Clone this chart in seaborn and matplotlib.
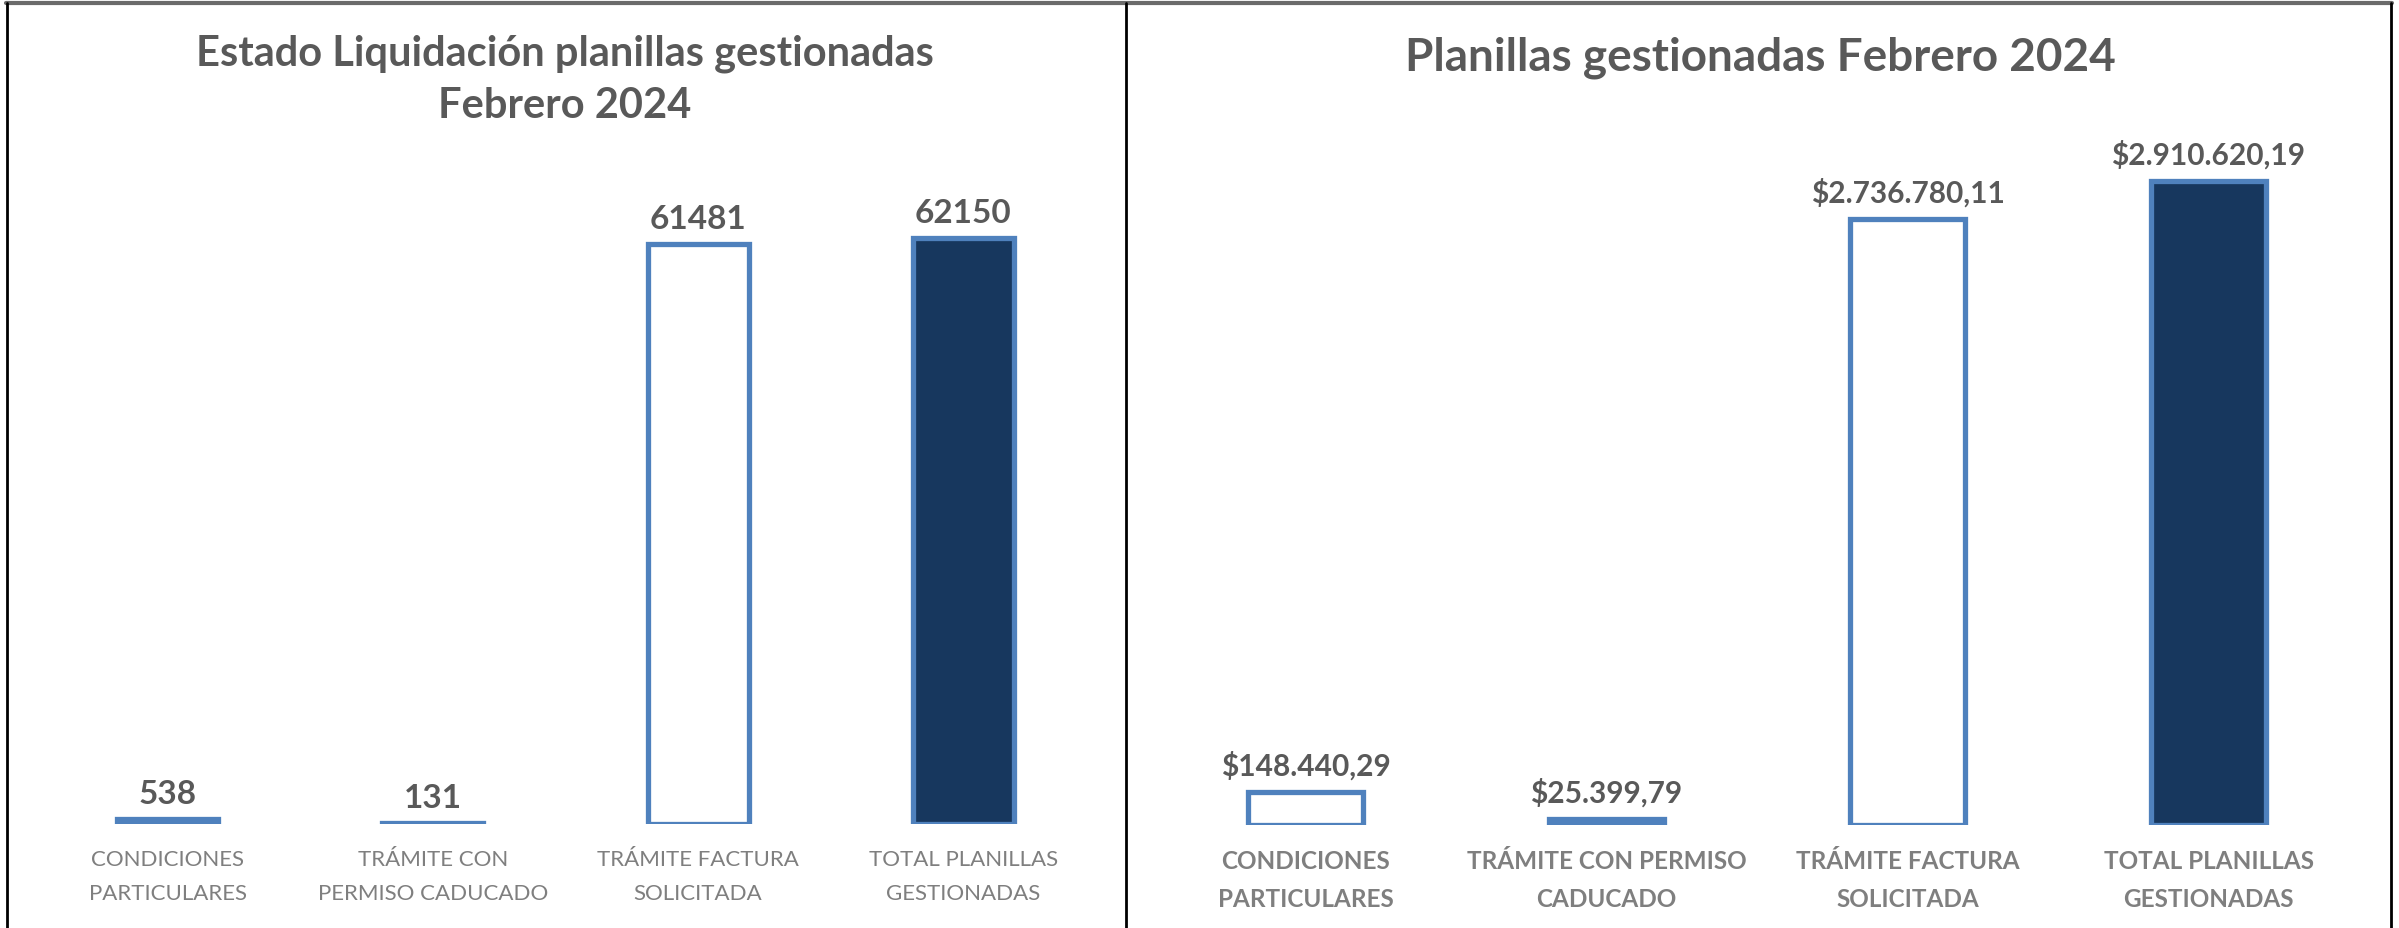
import matplotlib
matplotlib.use("Agg")
import matplotlib.pyplot as plt
import seaborn as sns
from matplotlib.lines import Line2D

# =====================================================
# DATA
# =====================================================
left_title = "Estado Liquidación planillas gestionadas\nFebrero 2024"
left_categories = [
    "CONDICIONES\nPARTICULARES",
    "TRÁMITE CON\nPERMISO CADUCADO",
    "TRÁMITE FACTURA\nSOLICITADA",
    "TOTAL PLANILLAS\nGESTIONADAS",
]
left_values = [538, 131, 61481, 62150]
left_labels = ["538", "131", "61481", "62150"]

right_title = "Planillas gestionadas Febrero 2024"
right_categories = [
    "CONDICIONES\nPARTICULARES",
    "TRÁMITE CON PERMISO\nCADUCADO",
    "TRÁMITE FACTURA\nSOLICITADA",
    "TOTAL PLANILLAS\nGESTIONADAS",
]
right_values = [148440.29, 25399.79, 2736780.11, 2910620.19]
right_labels = ["$148.440,29", "$25.399,79", "$2.736.780,11", "$2.910.620,19"]

# =====================================================
# STYLE
# =====================================================
BLUE = "#4F81BD"
NAVY = "#17375E"
TITLE_GRAY = "#595959"
LABEL_GRAY = "#7F7F7F"

left_fills = [BLUE, BLUE, "white", NAVY]
right_fills = ["white", BLUE, "white", NAVY]

sns.set_theme(style="white")
plt.rcParams["font.family"] = ["Lato", "DejaVu Sans"]

W, H = 2399, 929
fig = plt.figure(figsize=(W / 100, H / 100), dpi=100)


def px_rect(left, width, base, top):
    # pixel box -> figure fraction
    return [left / W, (H - base) / H, width / W, (base - top) / H]


def draw_panel(ax, cats, vals, labels, fills, bar_top_px, base_px, ax_top_px,
               cat_weight, cat_size, cat_pad, cat_spacing, label_size, label_pad):
    sns.barplot(x=cats, y=vals, ax=ax, width=0.38, color=BLUE)
    for patch, fc in zip(ax.patches, fills):
        patch.set_facecolor(fc)
        patch.set_edgecolor(BLUE)
        patch.set_linewidth(3.8)
    ax.bar_label(ax.containers[0], labels=labels, padding=label_pad,
                 fontsize=label_size, fontweight="bold", color=TITLE_GRAY)
    # scale so the tallest bar reaches its place in the picture
    ymax = max(vals) * (base_px - ax_top_px) / (base_px - bar_top_px)
    ax.set_ylim(0, ymax)
    ax.set_xlim(-0.5, len(cats) - 0.5)
    ax.set_yticks([])
    ax.set_xlabel("")
    ax.set_ylabel("")
    ax.tick_params(axis="x", length=0, pad=cat_pad)
    for t in ax.get_xticklabels():
        t.set_fontsize(cat_size)
        t.set_color(LABEL_GRAY)
        t.set_fontweight(cat_weight)
        t.set_linespacing(cat_spacing)
    sns.despine(ax=ax, left=True, bottom=True)
    ax.patch.set_alpha(0)


# LEFT PANEL
ax_l = fig.add_axes(px_rect(35, 1061, 825, 100))
draw_panel(ax_l, left_categories, left_values, left_labels, left_fills,
           bar_top_px=239, base_px=825, ax_top_px=100,
           cat_weight="normal", cat_size=16, cat_pad=18, cat_spacing=1.85,
           label_size=24, label_pad=8)
fig.text(565 / W, 1 - 80 / H, left_title, ha="center", va="center",
         fontsize=30, fontweight="bold", color=TITLE_GRAY, linespacing=1.45)

# RIGHT PANEL
ax_r = fig.add_axes(px_rect(1155, 1204, 826, 100))
draw_panel(ax_r, right_categories, right_values, right_labels, right_fills,
           bar_top_px=182, base_px=826, ax_top_px=100,
           cat_weight="bold", cat_size=17.5, cat_pad=17, cat_spacing=1.8,
           label_size=21.5, label_pad=9)
fig.text(1760 / W, 1 - 58 / H, right_title, ha="center", va="center",
         fontsize=33, fontweight="bold", color=TITLE_GRAY)

# BORDERS
fig.add_artist(Line2D([6 / W, 2392 / W], [1 - 3.5 / H, 1 - 3.5 / H],
                      color="#6b6b6b", lw=3, transform=fig.transFigure))
for xp in [7, 1126, 2391]:
    fig.add_artist(Line2D([xp / W, xp / W], [0, 1 - 4 / H],
                          color="black", lw=2, transform=fig.transFigure))

fig.savefig("out.png", dpi=100, facecolor="white")
print("Chart saved.")
